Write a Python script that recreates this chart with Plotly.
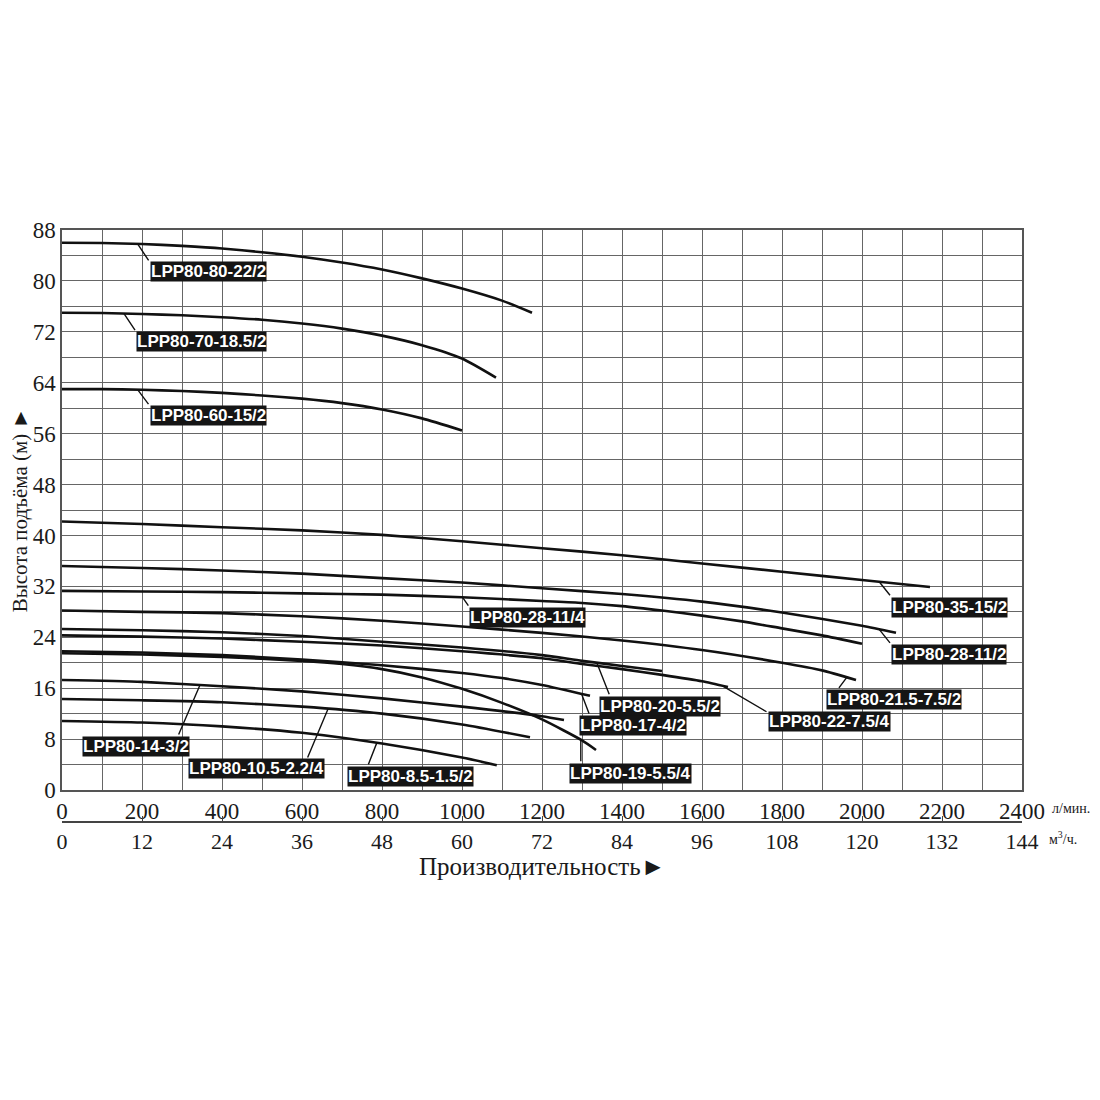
import numpy as np
import plotly.graph_objects as go

# pump curves: flow Q in l/min, head H in m
q_80_22 = [0, 100, 200, 300, 400, 500, 600, 700, 800, 900, 1000, 1100, 1175]
h_80_22 = [86.0, 85.95, 85.8, 85.5, 85.1, 84.5, 83.8, 82.9, 81.8, 80.4, 78.8, 76.9, 75.0]

q_70_18 = [0, 100, 200, 300, 400, 500, 600, 700, 800, 900, 1000, 1085]
h_70_18 = [75.0, 74.95, 74.8, 74.6, 74.3, 73.9, 73.3, 72.5, 71.4, 69.9, 67.8, 64.8]

q_60_15 = [0, 100, 200, 300, 400, 500, 600, 700, 800, 900, 1000]
h_60_15 = [63.0, 63.0, 62.9, 62.7, 62.4, 62.0, 61.5, 60.8, 59.8, 58.4, 56.5]

q_35_15 = [0, 200, 400, 600, 800, 1000, 1200, 1400, 1600, 1800, 2000, 2170]
h_35_15 = [42.2, 41.8, 41.3, 40.8, 40.1, 39.1, 38.0, 36.9, 35.6, 34.3, 33.0, 31.9]

q_28_11_2 = [0, 200, 400, 600, 800, 1000, 1200, 1400, 1600, 1800, 2000, 2085]
h_28_11_2 = [35.2, 34.9, 34.5, 34.0, 33.3, 32.6, 31.7, 30.8, 29.6, 27.9, 25.8, 24.7]

q_28_11_4 = [0, 200, 400, 600, 800, 1000, 1200, 1300, 1400, 1500, 1600, 1700, 1800, 1900, 2000]
h_28_11_4 = [31.3, 31.2, 31.1, 30.9, 30.7, 30.3, 29.7, 29.4, 28.9, 28.2, 27.4, 26.5, 25.4, 24.3, 23.0]

q_21_7 = [0, 200, 400, 600, 800, 1000, 1200, 1400, 1600, 1800, 1900, 1985]
h_21_7 = [28.2, 28.0, 27.8, 27.3, 26.6, 25.7, 24.7, 23.5, 22.0, 20.0, 18.8, 17.3]

q_20_5 = [0, 200, 400, 600, 800, 1000, 1200, 1300, 1400, 1500]
h_20_5 = [25.3, 25.1, 24.8, 24.2, 23.3, 22.4, 21.2, 20.3, 19.5, 18.7]

q_22_7 = [0, 200, 400, 600, 800, 1000, 1200, 1300, 1400, 1500, 1600, 1665]
h_22_7 = [24.3, 24.1, 23.8, 23.3, 22.7, 21.8, 20.7, 19.8, 19.0, 18.1, 17.1, 16.2]

q_17_4 = [0, 200, 400, 600, 800, 1000, 1100, 1200, 1320]
h_17_4 = [21.8, 21.6, 21.2, 20.5, 19.6, 18.4, 17.6, 16.5, 14.8]

q_19_5 = [0, 200, 400, 600, 700, 800, 900, 1000, 1100, 1200, 1300, 1335]
h_19_5 = [21.5, 21.3, 20.9, 20.3, 19.8, 19.0, 17.7, 15.9, 13.7, 11.1, 7.8, 6.3]

q_14_3 = [0, 200, 400, 600, 800, 1000, 1200, 1255]
h_14_3 = [17.3, 17.0, 16.3, 15.5, 14.4, 13.1, 11.6, 11.0]

q_10_2 = [0, 200, 400, 600, 800, 1000, 1170]
h_10_2 = [14.3, 14.1, 13.8, 13.1, 12.0, 10.3, 8.3]

q_8_1 = [0, 200, 400, 600, 800, 1000, 1087]
h_8_1 = [10.85, 10.6, 10.0, 9.0, 7.3, 5.1, 3.9]

curves = [
    ("LPP80-80-22/2", q_80_22, h_80_22),
    ("LPP80-70-18.5/2", q_70_18, h_70_18),
    ("LPP80-60-15/2", q_60_15, h_60_15),
    ("LPP80-35-15/2", q_35_15, h_35_15),
    ("LPP80-28-11/2", q_28_11_2, h_28_11_2),
    ("LPP80-28-11/4", q_28_11_4, h_28_11_4),
    ("LPP80-21.5-7.5/2", q_21_7, h_21_7),
    ("LPP80-20-5.5/2", q_20_5, h_20_5),
    ("LPP80-22-7.5/4", q_22_7, h_22_7),
    ("LPP80-17-4/2", q_17_4, h_17_4),
    ("LPP80-19-5.5/4", q_19_5, h_19_5),
    ("LPP80-14-3/2", q_14_3, h_14_3),
    ("LPP80-10.5-2.2/4", q_10_2, h_10_2),
    ("LPP80-8.5-1.5/2", q_8_1, h_8_1),
]

# flow where each label's leader touches its curve
label_q = [189, 155, 189, 2043, 2043, 1001, 1962, 1337, 1650, 1299, 1297, 345, 665, 787]

# leader end and box corner offsets in pixels (layout only)
leader_px = [(12, 18), (12, 18), (12, 16), (12, 15), (12, 15), (7, 10), (-9, 12),
             (13, 33), (46, 27), (8, 21), (0, 23), (-22, 51), (-21, 50), (-9, 23)]
box_px = [(12, 17), (12, 17), (12, 15), (12, 15), (12, 15), (7, 10), (-21, 12),
          (2, 33), (46, 25), (-3, 21), (-12, 23), (-118, 51), (-140, 49), (-30, 23)]

x_ticks_lpm = list(range(0, 2401, 200))
x_ticks_m3h = list(range(0, 145, 12))
y_ticks = list(range(0, 89, 8))

serif = "Liberation Serif"
grid_col = "#666666"
ink = "#1a1a1a"

fig = go.Figure()

for name, q, h in curves:
    fig.add_trace(go.Scatter(x=q, y=h, mode="lines", name=name, showlegend=False,
                             line=dict(color="#111111", width=2.6, shape="spline", smoothing=0.6)))

# dummy trace so the m3/h axis is drawn
fig.add_trace(go.Scatter(x=[0, 144], y=[None, None], xaxis="x2", mode="lines",
                         showlegend=False, hoverinfo="skip"))

for (name, q, h), lq, (lx, ly), (bx, by) in zip(curves, label_q, leader_px, box_px):
    lh = float(np.interp(lq, q, h))
    fig.add_annotation(x=lq, y=lh, text="", showarrow=True, arrowhead=0,
                       arrowwidth=1.4, arrowcolor="#111111", ax=lx, ay=ly, standoff=0)
    fig.add_annotation(x=lq, y=lh, text="<b>%s</b>" % name, showarrow=False,
                       xanchor="left", yanchor="top", xshift=bx, yshift=-by,
                       bgcolor="#151515", borderpad=0,
                       font=dict(family="Liberation Sans", size=17, color="white"))

fig.update_layout(
    width=1100, height=1100,
    margin=dict(l=54, r=86, t=222, b=286),
    paper_bgcolor="white", plot_bgcolor="white",
    xaxis=dict(range=[0, 2400], tickvals=x_ticks_lpm, showgrid=True, gridcolor=grid_col,
               gridwidth=1.3, minor=dict(dtick=100, showgrid=True, gridcolor=grid_col, gridwidth=1.3),
               showline=True, linecolor="#555555", linewidth=1.5, mirror=True, zeroline=False,
               ticks="", tickfont=dict(family=serif, size=23, color=ink), anchor="y"),
    xaxis2=dict(range=[0, 144], tickvals=x_ticks_m3h, overlaying="x", anchor="free", position=0,
                side="bottom", showgrid=False, zeroline=False, showline=True, linecolor="#444444",
                linewidth=1.5, ticks="inside", ticklen=5, tickcolor="#444444",
                tickfont=dict(family=serif, size=22, color=ink)),
    yaxis=dict(range=[0, 88], tickvals=y_ticks, domain=[0.054, 1], showgrid=True, gridcolor=grid_col,
               gridwidth=1.3, minor=dict(dtick=4, showgrid=True, gridcolor=grid_col, gridwidth=1.3),
               showline=True, linecolor="#555555", linewidth=1.5, mirror=True, zeroline=False,
               ticks="", tickfont=dict(family=serif, size=23, color=ink),
               title=dict(text="Высота подъёма (м) ►", standoff=4,
                          font=dict(family=serif, size=21, color=ink)), automargin=False),
)

fig.add_annotation(xref="paper", yref="paper", x=1.029, y=0.0236, text="л/мин.", showarrow=False,
                   xanchor="left", yanchor="middle", font=dict(family=serif, size=14, color=ink))
fig.add_annotation(xref="paper", yref="paper", x=1.026, y=-0.027, text="м<sup>3</sup>/ч.", showarrow=False,
                   xanchor="left", yanchor="middle", font=dict(family=serif, size=14, color=ink))
fig.add_annotation(xref="paper", yref="paper", x=0.5, y=-0.076, text="Производительность►",
                   showarrow=False, xanchor="center", yanchor="middle",
                   font=dict(family=serif, size=25, color=ink))

fig.write_html("out.html")
